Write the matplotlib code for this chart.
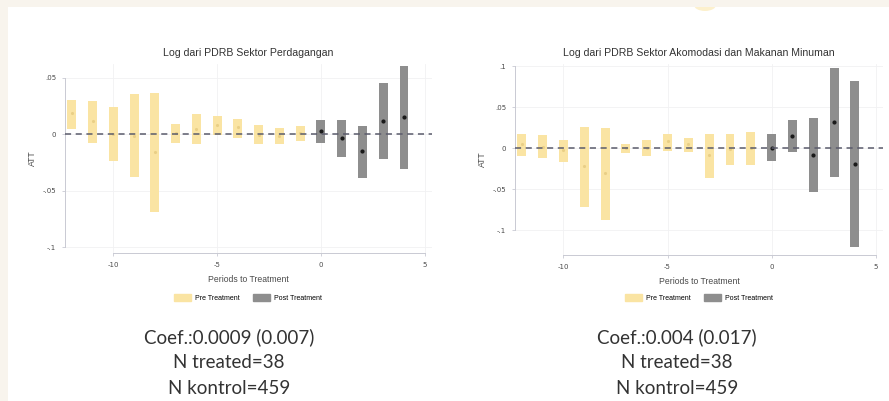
import matplotlib.pyplot as plt
import numpy as np
from matplotlib.patches import Rectangle, Ellipse, Patch

# periods relative to treatment
pre_x = list(range(-12, 0))
post_x = list(range(0, 5))

# Log PDRB Sektor Perdagangan
left_pre_pt = [0.0185, 0.012, 0.0, -0.0015, -0.016, 0.001, 0.0047, 0.0082, 0.006, -0.0003, -0.0015, 0.001]
left_pre_lo = [0.0047, -0.0074, -0.0235, -0.038, -0.069, -0.0074, -0.0085, -0.0006, -0.003, -0.0085, -0.0085, -0.006]
left_pre_hi = [0.0303, 0.0294, 0.0238, 0.0356, 0.0368, 0.0088, 0.018, 0.016, 0.0135, 0.008, 0.0053, 0.0074]
left_post_pt = [0.003, -0.0038, -0.015, 0.0118, 0.015]
left_post_lo = [-0.008, -0.02, -0.039, -0.022, -0.0306]
left_post_hi = [0.0126, 0.0123, 0.0076, 0.045, 0.060]

# Log PDRB Sektor Akomodasi dan Makanan Minuman
right_pre_pt = [0.0049, 0.002, -0.002, -0.022, -0.0305, 0.001, 0.0, 0.009, 0.005, -0.0085, -0.001, 0.0]
right_pre_lo = [-0.0094, -0.0122, -0.0163, -0.071, -0.087, -0.006, -0.009, -0.003, -0.004, -0.036, -0.020, -0.020]
right_pre_hi = [0.0175, 0.0163, 0.0102, 0.0265, 0.025, 0.006, 0.010, 0.018, 0.013, 0.018, 0.017, 0.0195]
right_post_pt = [0.001, 0.0155, -0.008, 0.0326, -0.019]
right_post_lo = [-0.0155, -0.004, -0.053, -0.0346, -0.120]
right_post_hi = [0.0175, 0.0346, 0.0374, 0.0985, 0.082]

x_ticks = [-10, -5, 0, 5]
x_ticklabels = ["-10", "-5", "0", "5"]
left_yticks = [0.05, 0, -0.05, -0.1]
left_yticklabels = [".05", "0", "-.05", "-.1"]
right_yticks = [0.1, 0.05, 0, -0.05, -0.1]
right_yticklabels = [".1", ".05", "0", "-.05", "-.1"]

titles = ["Log dari PDRB Sektor Perdagangan",
          "Log dari PDRB Sektor Akomodasi dan Makanan Minuman"]
notes = [["Coef.:0.0009 (0.007)", "N treated=38", "N kontrol=459"],
         ["Coef.:0.004 (0.017)", "N treated=38", "N kontrol=459"]]

PRE_C = "#fae4a3"
PRE_PT = "#e9cf86"
POST_C = "#8e8e8e"
CREAM = "#f8f4ed"
AX_C = "#c9cad3"
TXT = "#4a4a4a"

fig = plt.figure(figsize=(8.89, 4.01), dpi=100)
fig.patch.set_facecolor(CREAM)

# white slide panel (behind the axes)
panel = Rectangle((8 / 889, 0), 1, 1 - 7 / 401, transform=fig.transFigure,
                  facecolor="white", edgecolor="none", zorder=-2)
fig.patches.append(panel)
blob = Ellipse((705 / 889, 1 - 5 / 401), 22 / 889, 12 / 401, transform=fig.transFigure,
               facecolor="#f6cf5a", edgecolor="none", alpha=0.3, zorder=-1)
blob.set_clip_path(panel)
fig.patches.append(blob)


def draw_panel(ax, title, pre, post, yticks, yticklabels, ylim):
    pre_pt, pre_lo, pre_hi = pre
    post_pt, post_lo, post_hi = post
    ax.set_facecolor("white")
    ax.set_axisbelow(True)
    for t in x_ticks:
        ax.axvline(t, color="#f1f1f3", lw=0.6, zorder=0)
    for t in yticks:
        ax.axhline(t, color="#f1f1f3", lw=0.6, zorder=0)

    ax.bar(pre_x, np.array(pre_hi) - np.array(pre_lo), bottom=pre_lo, width=0.43,
           color=PRE_C, zorder=2)
    ax.bar(post_x, np.array(post_hi) - np.array(post_lo), bottom=post_lo, width=0.43,
           color=POST_C, zorder=2)
    ax.scatter(pre_x, pre_pt, s=5, color=PRE_PT, zorder=3, linewidths=0)
    ax.scatter(post_x, post_pt, s=9, color="#1a1a1a", zorder=3, linewidths=0)
    ax.axhline(0, color="#5a5b6b", lw=1.1, ls=(0, (4, 3)), zorder=4)

    ax.set_xlim(-12.33, 5.35)
    ax.set_ylim(*ylim)
    ax.set_xticks(x_ticks)
    ax.set_xticklabels(x_ticklabels)
    ax.set_yticks(yticks)
    ax.set_yticklabels(yticklabels)
    ax.tick_params(labelsize=5, colors=TXT, length=2.5, width=0.6, pad=4)
    ax.tick_params(axis="both", color=AX_C)

    for s in ["top", "right"]:
        ax.spines[s].set_visible(False)
    ax.spines["left"].set_color(AX_C)
    ax.spines["bottom"].set_color(AX_C)
    ax.spines["left"].set_linewidth(0.7)
    ax.spines["bottom"].set_linewidth(0.7)
    ax.spines["left"].set_bounds(min(yticks), max(yticks))
    ax.spines["bottom"].set_bounds(-10, 5)

    ax.set_title(title, fontsize=7.6, color="#333333", pad=6, family="Liberation Sans")
    ax.set_xlabel("Periods to Treatment", fontsize=6.2, color=TXT, labelpad=5,
                  family="Liberation Sans")
    ax.set_ylabel("ATT", fontsize=6.2, color=TXT, labelpad=4, family="Liberation Sans")


ax1 = fig.add_axes([65 / 889, 1 - 253 / 401, (432 - 65) / 889, (253 - 64) / 401])
draw_panel(ax1, titles[0], (left_pre_pt, left_pre_lo, left_pre_hi),
           (left_post_pt, left_post_lo, left_post_hi),
           left_yticks, left_yticklabels, (-0.105, 0.062))

ax2 = fig.add_axes([515 / 889, 1 - 255 / 401, (883 - 515) / 889, (255 - 64) / 401])
draw_panel(ax2, titles[1], (right_pre_pt, right_pre_lo, right_pre_hi),
           (right_post_pt, right_post_lo, right_post_hi),
           right_yticks, right_yticklabels, (-0.130, 0.103))

handles = [Patch(color=PRE_C, label="Pre Treatment"),
           Patch(color=POST_C, label="Post Treatment")]
for cx in [248 / 889, 699 / 889]:
    fig.legend(handles=handles, loc="center", bbox_to_anchor=(cx, 1 - 298 / 401),
               ncol=2, frameon=False, handlelength=2.4, handleheight=1.1,
               columnspacing=2.0, handletextpad=0.6,
               prop={"family": "Liberation Sans", "size": 5})

# notes below each chart
for cx, lines in zip([229 / 889, 677 / 889], notes):
    for yy, line in zip([337, 362, 388], lines):
        fig.text(cx, 1 - yy / 401, line, ha="center", va="center", fontsize=13.5,
                 color="#333333", family="Lato")

fig.savefig("out.png", dpi=100, facecolor=fig.get_facecolor())
